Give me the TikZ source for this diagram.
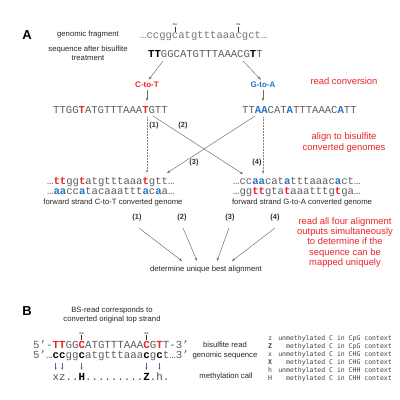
\documentclass[tikz,border=0pt]{standalone}
\usepackage{fontspec}
\setmainfont{Liberation Sans}
\setmonofont{Liberation Mono}
\newfontfamily\legfont{DejaVu Sans Mono}
\usetikzlibrary{arrows.meta}
\definecolor{bsred}{RGB}{235,35,40}
\definecolor{bsblue}{RGB}{35,115,195}
\definecolor{sqgray}{RGB}{95,95,95}
\definecolor{lngray}{RGB}{105,105,105}
\definecolor{callarrow}{RGB}{70,110,150}
\newcommand{\rT}[1]{\textcolor{bsred}{\textbf{#1}}}
\newcommand{\bA}[1]{\textcolor{bsblue}{\textbf{#1}}}
\newcommand{\kB}[1]{\textcolor{black}{\textbf{#1}}}
\begin{document}
\begin{tikzpicture}[x=1pt,y=-1pt,
  lbl/.style={font=\fontsize{7.7}{8.5}\selectfont, inner sep=0, text=black!85},
  note/.style={font=\fontsize{9.4}{10.6}\selectfont, text=bsred, align=center, inner sep=0},
  seq/.style={font=\fontsize{10.6}{12}\selectfont\ttfamily, text=sqgray, inner sep=0, anchor=base west, text height=6pt, text depth=1.5pt},
  bseq/.style={seq, font=\fontsize{10.8}{12}\selectfont\ttfamily},
  conv/.style={font=\fontsize{8}{9}\selectfont\bfseries, inner sep=0},
  num/.style={font=\fontsize{7.4}{9}\selectfont\bfseries, inner sep=0, text=black!80},
  link/.style={draw=lngray, line width=0.45pt, -{Stealth[length=3.4pt,width=2.5pt]}},
  vlink/.style={link, draw=gray, line width=0.55pt, dash pattern=on 0.6pt off 0.9pt},
  melbl/.style={font=\fontsize{3}{3}\selectfont, inner sep=0.3pt, anchor=south},
  metick/.style={draw=black!80, line width=0.4pt},
  panel/.style={font=\fontsize{13}{14}\selectfont\bfseries, inner sep=0},
  leg/.style={font=\fontsize{6.5}{7}\selectfont\legfont, inner sep=0, text=black!75, anchor=base},
  callarr/.style={draw=callarrow, line width=0.5pt, -{Stealth[length=2.5pt,width=2pt]}}
]
\fill[white] (0,0) rectangle (400,400);
\useasboundingbox (0,0) rectangle (400,400);

% ---------------- Panel A ----------------
\node[panel] (pA) at (27,35) {A};
\node[lbl] (gflbl) at (88,35) {genomic fragment};
\node[lbl, align=center] (bslbl) at (88,53) {sequence after bisulfite\\treatment};

\node[seq, text=sqgray!85] (frag) at (140,38) {…ccggcatgtttaaacgct…};
\coordinate (m1b) at ({140+5.5*6.36},32);
\coordinate (m1t) at ({140+5.5*6.36},26.5);
\coordinate (m2b) at ({140+15.5*6.36},32);
\coordinate (m2t) at ({140+15.5*6.36},26.5);
\draw[metick] (m1t) -- (m1b);
\draw[metick] (m2t) -- (m2b);
\node[melbl] (me1) at (m1t) {me};
\node[melbl] (me2) at (m2t) {me};

\node[seq] (bsseq) at (148,57) {\kB{TT}GGCATGTTTAAACG\kB{T}T};

\node[conv, text=bsred] (c2t) at (147,85) {C-to-T};
\node[conv, text=bsblue] (g2a) at (263,85) {G-to-A};
\node[note] (rc) at (344,81) {read conversion};

\coordinate (bsL) at (163,61);
\coordinate (bsR) at (243,61);
\draw[link, shorten >=3pt] (bsL) -- (c2t.north);
\draw[link, shorten >=3pt] (bsR) -- (g2a.north);

\node[seq] (read1) at (53,113) {TTGG\rT{T}ATGTTTAAA\rT{T}GTT};
\node[seq] (read2) at (242,113) {TT\bA{AA}CAT\bA{A}TTTAAAC\bA{A}TT};

\coordinate (r1top) at (147,101);
\coordinate (r2top) at (263,101);
\draw[link, shorten <=2pt] (c2t.south) -- (r1top);
\draw[link, shorten <=2pt] (g2a.south) -- (r2top);

\node[note, font=\fontsize{9.4}{11}\selectfont] (align) at (344,142.5) {align to bisulfite\\converted genomes};

\node[seq] (gC1) at (47,184.5) {…\rT{tt}gg\rT{t}atgtttaaa\rT{t}gtt…};
\node[seq] (gC2) at (47,194.5) {…\bA{aa}cc\bA{a}tacaaattt\bA{a}c\bA{a}a…};
\node[lbl] (gClbl) at (113,202.5) {forward strand C-to-T converted genome};
\node[seq] (gG1) at (233,184.5) {…cc\bA{aa}cat\bA{a}tttaaac\bA{a}ct…};
\node[seq] (gG2) at (233,194.5) {…gg\rT{tt}gta\rT{t}aaatttg\rT{t}ga…};
\node[lbl] (gGlbl) at (302,202.5) {forward strand G-to-A converted genome};

\coordinate (s1) at (147,117);
\coordinate (s2) at (153,116);
\coordinate (s3) at (255,116);
\coordinate (s4) at (263,117);
\coordinate (e1) at (147,173);
\coordinate (e2) at (243,174);
\coordinate (e3) at (167,173);
\coordinate (e4) at (263,174);
\draw[vlink] (s1) -- (e1);
\draw[link] (s2) -- (e2);
\draw[link] (s3) -- (e3);
\draw[vlink] (s4) -- (e4);
\node[num] (n1) at (154,126) {(1)};
\node[num] (n2) at (183,126) {(2)};
\node[num] (n3) at (194,163) {(3)};
\node[num] (n4) at (257,163) {(4)};

\node[num] (o1) at (137,218) {(1)};
\node[num] (o2) at (182,218) {(2)};
\node[num] (o3) at (230,218) {(3)};
\node[num] (o4) at (275,218) {(4)};
\node[note, font=\fontsize{9.4}{10.3}\selectfont] (four) at (345,242.5) {read all four alignment\\outputs simultaneously\\to determine if the\\sequence can be\\mapped uniquely};
\node[lbl] (best) at (206,270) {determine unique best alignment};
\coordinate (b1) at (182,261);
\coordinate (b2) at (197,261);
\coordinate (b3) at (217,261);
\coordinate (b4) at (232,261);
\coordinate (t1) at (139,228);
\coordinate (t2) at (183,228);
\coordinate (t3) at (229,228);
\coordinate (t4) at (275,228);
\draw[link] (t1) -- (b1);
\draw[link] (t2) -- (b2);
\draw[link] (t3) -- (b3);
\draw[link] (t4) -- (b4);

% ---------------- Panel B ----------------
\node[panel] (pB) at (27,311) {B};
\node[lbl, align=center, font=\fontsize{7.7}{9}\selectfont] (bsnote) at (112,315.5) {BS-read corresponds to\\converted original top strand};

\node[bseq] (bread) at (33,348.5) {5’-\rT{TT}GG\rT{C}ATGTTTAAA\rT{C}G\rT{T}T-3’};
\node[bseq] (bgen) at (33,358.5) {5’…\kB{cc}gg\kB{c}atgtttaaa\kB{c}g\kB{c}t…3’};
\node[bseq, text=black!70] (bcall) at ({33+3*6.48},380) {xz..\kB{H}.........\kB{Z}.h.};

\coordinate (bm1t) at ({33+7.5*6.48},335);
\coordinate (bm1b) at ({33+7.5*6.48},340);
\coordinate (bm2t) at ({33+17.5*6.48},335);
\coordinate (bm2b) at ({33+17.5*6.48},340);
\draw[metick] (bm1t) -- (bm1b);
\draw[metick] (bm2t) -- (bm2b);
\node[melbl] (bme1) at (bm1t) {me};
\node[melbl] (bme2) at (bm2t) {me};

\foreach \k/\nm in {1/ca, 2/cb, 5/cc, 15/cd, 17/ce}{
  \coordinate (\nm t) at ({33+(2.5+\k)*6.48},363);
  \coordinate (\nm b) at ({33+(2.5+\k)*6.48},370);
  \draw[callarr] (\nm t) -- (\nm b);
}

\node[lbl] (rdlbl) at (225,345) {bisulfite read};
\node[lbl] (gslbl) at (225,356) {genomic sequence};
\node[lbl] (mclbl) at (226,377) {methylation call};

\node[leg] (lz) at (270,340.5) {z};
\node[leg, anchor=base east] (dz) at (392,340.5) {unmethylated C in CpG context};
\node[leg] (lZ) at (270,348.5) {\textbf{Z}};
\node[leg, anchor=base east] (dZ) at (392,348.5) {methylated C in CpG context};
\node[leg] (lx) at (270,356.5) {x};
\node[leg, anchor=base east] (dx) at (392,356.5) {unmethylated C in CHG context};
\node[leg] (lX) at (270,364.5) {\textbf{X}};
\node[leg, anchor=base east] (dX) at (392,364.5) {methylated C in CHG context};
\node[leg] (lh) at (270,372.5) {h};
\node[leg, anchor=base east] (dh) at (392,372.5) {unmethylated C in CHH context};
\node[leg] (lH) at (270,380.5) {H};
\node[leg, anchor=base east] (dH) at (392,380.5) {methylated C in CHH context};
\end{tikzpicture}
\end{document}
